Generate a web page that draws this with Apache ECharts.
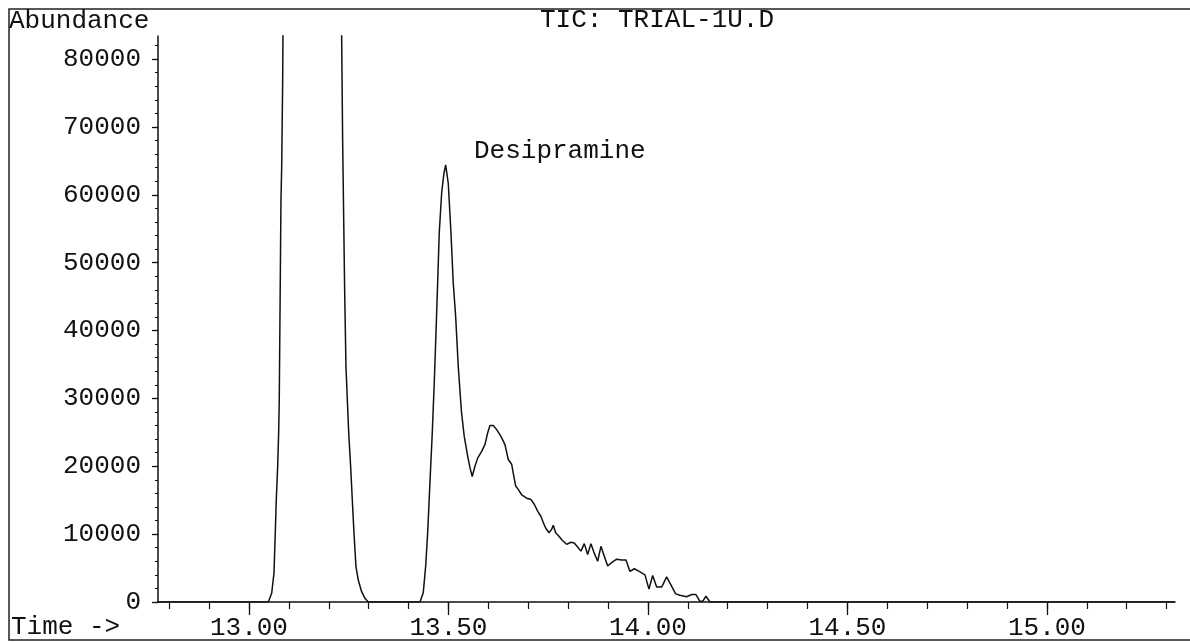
<!DOCTYPE html>
<html>
<head>
<meta charset="utf-8">
<script src="https://cdn.jsdelivr.net/npm/echarts@6/dist/echarts.min.js"></script>
<style>
html,body{margin:0;padding:0;background:#fff;}
#chart{width:1190px;height:642px;}
</style>
</head>
<body>
<div id="chart"></div>
<script>
// ---- data (time in min, abundance) ----
// first (off-scale) peak
const peak1Time  = [12.772, 13.0484, 13.0569, 13.0627, 13.0659, 13.0684, 13.0719, 13.0744, 13.0759, 13.0802, 13.0820, 13.0845, 13.0852, 13.0870, 13.1600, 13.2310, 13.2323, 13.2348, 13.2398, 13.2431, 13.2500, 13.2549, 13.2599, 13.2632, 13.2682, 13.2739, 13.2824, 13.2907, 13.2990];
const peak1Abund = [0, 0, 1280, 4270, 10160, 15000, 19900, 24900, 29700, 59200, 64100, 76900, 83400, 90000, 300000, 90000, 83400, 68000, 46000, 34700, 24900, 19900, 14000, 10160, 5200, 3240, 1520, 540, 0];
// Desipramine peak and tail
const peak2Time  = [13.4286, 13.4368, 13.4429, 13.4479, 13.4536, 13.4594, 13.4644, 13.4687, 13.4729, 13.4769, 13.4830, 13.4887, 13.4930, 13.4995, 13.5063, 13.5120, 13.5180, 13.5246, 13.5326, 13.5396, 13.5481, 13.5539, 13.5596, 13.5664, 13.5732, 13.5832, 13.5915, 13.5982, 13.6040, 13.6123, 13.6208, 13.6316, 13.6416, 13.6499, 13.6584, 13.6624, 13.6684, 13.6749, 13.6835, 13.6960, 13.7068, 13.7150, 13.7236, 13.7318, 13.7376, 13.7436, 13.7519, 13.7586, 13.7627, 13.7687, 13.7769, 13.7852, 13.7962, 13.8070, 13.8153, 13.8238, 13.8321, 13.8404, 13.8489, 13.8571, 13.8654, 13.8739, 13.8822, 13.8880, 13.8990, 13.9090, 13.9215, 13.9341, 13.9449, 13.9549, 13.9657, 13.9782, 13.9925, 14.0025, 14.0118, 14.0218, 14.0343, 14.0469, 14.0569, 14.0694, 14.0802, 14.0970, 14.1095, 14.1203, 14.1303, 14.1371, 14.1454, 14.1554, 15.321];
const peak2Abund = [0, 1350, 5300, 10200, 17600, 24900, 32300, 39600, 47000, 54400, 60300, 63200, 64400, 61700, 54400, 47000, 42100, 34700, 28000, 24400, 21500, 19800, 18500, 20000, 21200, 22200, 23200, 24900, 26000, 26000, 25400, 24400, 23200, 21000, 20300, 19000, 17100, 16600, 15800, 15300, 15100, 14400, 13400, 12600, 11700, 10900, 10200, 10700, 11300, 10200, 9700, 9100, 8500, 8800, 8700, 8100, 7500, 8600, 7000, 8600, 7200, 6000, 8200, 7200, 5300, 5800, 6300, 6200, 6200, 4500, 4900, 4500, 4000, 1900, 3900, 2200, 2200, 3700, 2600, 1200, 1000, 770, 1100, 1100, 100, 100, 850, 0, 0];

// axes
const timeRange = [12.772, 15.321];
const abundRange = [0, 83400];
const xLabelValues = [13.0, 13.5, 14.0, 14.5, 15.0];
const xMinorValues = [12.8, 12.9, 13.0, 13.1, 13.2, 13.3, 13.4, 13.5, 13.6, 13.7, 13.8, 13.9, 14.0, 14.1, 14.2, 14.3, 14.4, 14.5, 14.6, 14.7, 14.8, 14.9, 15.0, 15.1, 15.2, 15.3];
const yLabelValues = [0, 10000, 20000, 30000, 40000, 50000, 60000, 70000, 80000];
const yMinorValues = [0, 2000, 4000, 6000, 8000, 10000, 12000, 14000, 16000, 18000, 20000, 22000, 24000, 26000, 28000, 30000, 32000, 34000, 36000, 38000, 40000, 42000, 44000, 46000, 48000, 50000, 52000, 54000, 56000, 58000, 60000, 62000, 64000, 66000, 68000, 70000, 72000, 74000, 76000, 78000, 80000, 82000];

const yTitle = 'Abundance';
const chartTitle = 'TIC: TRIAL-1U.D';
const xTitle = 'Time ->';
const peakName = 'Desipramine';

const FONT = 'Liberation Mono';
const FS = 26;
const INK = '#111111';

const traceData = [];
peak1Time.forEach((t, i) => traceData.push([t, peak1Abund[i]]));
peak2Time.forEach((t, i) => traceData.push([t, peak2Abund[i]]));

const chart = echarts.init(document.getElementById('chart'), null, {renderer: 'canvas'});

const option = {
  backgroundColor: '#ffffff',
  animation: false,
  grid: {left: 158, top: 36, right: 15, bottom: 40, containLabel: false},
  xAxis: [
    {
      type: 'value', min: timeRange[0], max: timeRange[1], position: 'bottom',
      axisLine: {show: true, onZero: false, lineStyle: {color: INK, width: 1.5}},
      axisTick: {show: true, customValues: xLabelValues, length: 13, lineStyle: {color: INK, width: 1.3}},
      axisLabel: {show: true, customValues: xLabelValues, margin: 13, color: INK, fontFamily: FONT, fontSize: FS,
        formatter: v => v.toFixed(2)},
      splitLine: {show: false}
    },
    {
      type: 'value', min: timeRange[0], max: timeRange[1], position: 'bottom',
      axisLine: {show: false},
      axisTick: {show: true, customValues: xMinorValues, length: 7, lineStyle: {color: INK, width: 1.2}},
      axisLabel: {show: false},
      splitLine: {show: false}
    }
  ],
  yAxis: [
    {
      type: 'value', min: abundRange[0], max: abundRange[1], position: 'left',
      axisLine: {show: true, onZero: false, lineStyle: {color: INK, width: 1.5}},
      axisTick: {show: true, customValues: yLabelValues, length: 6, lineStyle: {color: INK, width: 1.3}},
      axisLabel: {show: true, customValues: yLabelValues, margin: 17, color: INK, fontFamily: FONT, fontSize: FS,
        formatter: v => String(v)},
      splitLine: {show: false}
    },
    {
      type: 'value', min: abundRange[0], max: abundRange[1], position: 'left', offset: 0,
      axisLine: {show: false},
      axisTick: {show: true, customValues: yMinorValues, length: 3, lineStyle: {color: INK, width: 1.1}},
      axisLabel: {show: false},
      splitLine: {show: false}
    }
  ],
  series: [{
    type: 'line',
    xAxisIndex: 0, yAxisIndex: 0,
    data: traceData,
    showSymbol: false,
    symbol: 'none',
    clip: true,
    smooth: false,
    lineStyle: {color: INK, width: 1.5},
    z: 3
  }],
  graphic: [
    {type: 'rect', shape: {x: 9, y: 9, width: 1200, height: 631}, style: {fill: 'none', stroke: '#222', lineWidth: 1.5}, silent: true},
    {type: 'text', left: 9, top: 8, style: {text: yTitle, font: FS + 'px "' + FONT + '"', fill: INK}},
    {type: 'text', left: 540, top: 7, style: {text: chartTitle, font: FS + 'px "' + FONT + '"', fill: INK}},
    {type: 'text', left: 11, top: 614, style: {text: xTitle, font: FS + 'px "' + FONT + '"', fill: INK}},
    {type: 'text', left: 474, top: 138, style: {text: peakName, font: FS + 'px "' + FONT + '"', fill: INK}}
  ]
};
chart.setOption(option);
</script>
</body>
</html>
